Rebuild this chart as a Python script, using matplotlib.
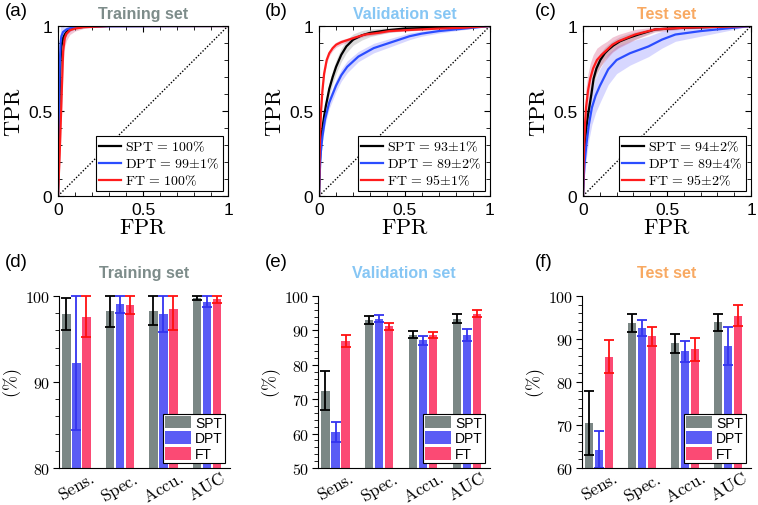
import matplotlib
matplotlib.use("Agg")
import matplotlib.pyplot as plt
import numpy as np
from matplotlib.ticker import MultipleLocator, FixedLocator, FuncFormatter
from matplotlib.patches import Patch

plt.rcParams['font.family'] = ['Liberation Sans', 'DejaVu Sans']
plt.rcParams['mathtext.fontset'] = 'cm'

# ---------------- ROC data ----------------
# Training
tr_spt_fpr = [0, 0.005, 0.01, 0.015, 0.02, 0.03, 0.04, 0.05, 0.07, 0.1, 0.15, 0.3, 1.0]
tr_spt_tpr = [0, 0.3, 0.6, 0.8, 0.88, 0.93, 0.95, 0.965, 0.982, 0.99, 0.995, 1.0, 1.0]
tr_spt_w   = [0, 0.05, 0.06, 0.05, 0.04, 0.03, 0.025, 0.02, 0.012, 0.008, 0.004, 0, 0]
tr_dpt_fpr = [0, 0.005, 0.01, 0.015, 0.02, 0.03, 0.05, 0.08, 0.12, 0.2, 1.0]
tr_dpt_tpr = [0, 0.45, 0.75, 0.9, 0.94, 0.965, 0.98, 0.99, 0.995, 0.998, 1.0]
tr_dpt_w   = [0, 0.1, 0.15, 0.1, 0.07, 0.05, 0.03, 0.015, 0.008, 0.003, 0]
tr_ft_fpr  = [0, 0.01, 0.02, 0.03, 0.04, 0.05, 0.07, 0.1, 0.15, 0.3, 1.0]
tr_ft_tpr  = [0, 0.25, 0.55, 0.85, 0.93, 0.955, 0.975, 0.985, 0.993, 1.0, 1.0]
tr_ft_w    = [0, 0.08, 0.1, 0.08, 0.05, 0.04, 0.025, 0.015, 0.008, 0, 0]

# Validation
va_spt_fpr = [0, 0.005, 0.01, 0.02, 0.03, 0.04, 0.06, 0.08, 0.1, 0.13, 0.16, 0.2, 0.25, 0.3, 0.4, 0.5, 0.7, 0.85, 1.0]
va_spt_tpr = [0, 0.2, 0.3, 0.4, 0.47, 0.53, 0.63, 0.7, 0.76, 0.83, 0.88, 0.92, 0.945, 0.96, 0.975, 0.985, 0.99, 0.995, 1.0]
va_spt_w   = [0, 0.03, 0.04, 0.04, 0.04, 0.04, 0.04, 0.04, 0.04, 0.04, 0.038, 0.033, 0.028, 0.022, 0.015, 0.01, 0.005, 0.003, 0]
va_dpt_fpr = [0, 0.005, 0.01, 0.02, 0.035, 0.06, 0.1, 0.13, 0.165, 0.23, 0.32, 0.41, 0.53, 0.6, 0.7, 0.8, 0.9, 1.0]
va_dpt_tpr = [0, 0.15, 0.25, 0.35, 0.45, 0.55, 0.65, 0.71, 0.76, 0.82, 0.87, 0.9, 0.94, 0.955, 0.97, 0.98, 0.99, 1.0]
va_dpt_w   = [0, 0.03, 0.03, 0.03, 0.035, 0.035, 0.035, 0.035, 0.035, 0.03, 0.028, 0.025, 0.02, 0.015, 0.012, 0.008, 0.005, 0]
va_ft_fpr  = [0, 0.003, 0.007, 0.012, 0.02, 0.03, 0.045, 0.06, 0.08, 0.1, 0.13, 0.175, 0.22, 0.27, 0.35, 0.41, 0.5, 0.6, 0.7, 0.85, 1.0]
va_ft_tpr  = [0, 0.2, 0.38, 0.5, 0.62, 0.72, 0.8, 0.84, 0.87, 0.89, 0.905, 0.92, 0.935, 0.95, 0.96, 0.97, 0.975, 0.98, 0.985, 0.99, 1.0]
va_ft_w    = [0, 0.02, 0.02, 0.02, 0.02, 0.02, 0.018, 0.016, 0.015, 0.015, 0.014, 0.012, 0.01, 0.01, 0.008, 0.007, 0.006, 0.005, 0.004, 0.003, 0]

# Test
te_spt_fpr = [0, 0.005, 0.01, 0.02, 0.03, 0.037, 0.05, 0.063, 0.08, 0.103, 0.13, 0.15, 0.18, 0.22, 0.27, 0.33, 0.43, 0.6, 0.8, 1.0]
te_spt_tpr = [0, 0.2, 0.3, 0.4, 0.48, 0.52, 0.6, 0.69, 0.75, 0.8, 0.84, 0.86, 0.885, 0.91, 0.93, 0.95, 0.98, 0.99, 0.995, 1.0]
te_spt_w   = [0, 0.03, 0.035, 0.04, 0.04, 0.04, 0.04, 0.04, 0.04, 0.04, 0.035, 0.033, 0.03, 0.028, 0.025, 0.02, 0.01, 0.005, 0.003, 0]
te_dpt_fpr = [0, 0.005, 0.01, 0.02, 0.035, 0.053, 0.075, 0.1, 0.15, 0.2, 0.28, 0.39, 0.47, 0.55, 0.7, 0.8, 0.9, 1.0]
te_dpt_tpr = [0, 0.12, 0.2, 0.3, 0.42, 0.52, 0.59, 0.647, 0.745, 0.8, 0.84, 0.88, 0.92, 0.95, 0.97, 0.98, 0.99, 1.0]
te_dpt_w   = [0, 0.05, 0.07, 0.08, 0.09, 0.1, 0.1, 0.1, 0.09, 0.08, 0.07, 0.06, 0.05, 0.04, 0.03, 0.02, 0.01, 0]
te_ft_fpr  = [0, 0.004, 0.008, 0.013, 0.018, 0.03, 0.043, 0.06, 0.083, 0.11, 0.143, 0.175, 0.21, 0.26, 0.31, 0.43, 0.6, 0.8, 1.0]
te_ft_tpr  = [0, 0.2, 0.33, 0.44, 0.52, 0.62, 0.69, 0.75, 0.8, 0.83, 0.86, 0.89, 0.91, 0.93, 0.95, 0.98, 0.99, 0.995, 1.0]
te_ft_w    = [0, 0.1, 0.12, 0.12, 0.12, 0.1, 0.09, 0.08, 0.07, 0.06, 0.05, 0.045, 0.04, 0.035, 0.03, 0.015, 0.008, 0.004, 0]

legend_train = [r'$\mathrm{SPT}\,=\,100\%$', r'$\mathrm{DPT}\,=\,99{\pm}1\%$', r'$\mathrm{FT}\,=\,100\%$']
legend_val   = [r'$\mathrm{SPT}\,=\,93{\pm}1\%$', r'$\mathrm{DPT}\,=\,89{\pm}2\%$', r'$\mathrm{FT}\,=\,95{\pm}1\%$']
legend_test  = [r'$\mathrm{SPT}\,=\,94{\pm}2\%$', r'$\mathrm{DPT}\,=\,89{\pm}4\%$', r'$\mathrm{FT}\,=\,95{\pm}2\%$']

# ---------------- Bar data ----------------
metrics = ['Sens.', 'Spec.', 'Accu.', 'AUC']
models = ['SPT', 'DPT', 'FT']
train_mean = {'SPT': [97.9, 98.2, 98.3, 99.75], 'DPT': [92.2, 99.05, 97.9, 99.35], 'FT': [97.6, 98.95, 98.5, 99.6]}
train_err  = {'SPT': [1.9, 1.8, 1.7, 0.25], 'DPT': [7.8, 1.0, 2.1, 0.6], 'FT': [2.4, 1.0, 2.4, 0.4]}
val_mean = {'SPT': [72.5, 93.0, 88.8, 93.4], 'DPT': [60.5, 93.4, 87.1, 88.7], 'FT': [86.9, 91.2, 88.6, 94.9]}
val_err  = {'SPT': [5.6, 1.2, 0.9, 1.3], 'DPT': [2.9, 1.0, 1.2, 1.8], 'FT': [1.7, 1.0, 0.9, 1.0]}
test_mean = {'SPT': [70.5, 93.7, 89.0, 93.9], 'DPT': [64.2, 92.6, 87.1, 88.4], 'FT': [85.9, 90.6, 87.6, 95.4]}
test_err  = {'SPT': [7.5, 2.0, 2.2, 2.0], 'DPT': [4.3, 1.8, 2.4, 4.4], 'FT': [3.8, 2.2, 2.7, 2.4]}

titles = ['Training set', 'Validation set', 'Test set']
title_colors = ['#7d8c8a', '#86c6f4', '#f8a962']

line_colors = {'SPT': 'black', 'DPT': '#2b4dff', 'FT': '#ff1c1c'}
band_colors = {'SPT': '#8a8a8a', 'DPT': '#7d7dff', 'FT': '#d2447a'}
bar_colors = {'SPT': '#7b8785', 'DPT': '#5a5cf5', 'FT': '#fb4a74'}
err_colors = {'SPT': 'black', 'DPT': '#3434f0', 'FT': '#ff1010'}

W, H = 758, 506
fig = plt.figure(figsize=(W / 100, H / 100), dpi=100)

def rect(l, r, t, b):
    return [l / W, 1 - b / H, (r - l) / W, (b - t) / H]

roc_rects = [rect(58, 228, 27, 197), rect(319, 490, 27, 197), rect(583, 751, 27, 197)]
bar_rects = [rect(59, 230, 297, 469), rect(318, 490, 297, 469), rect(582, 751, 297, 469)]

roc_sets = [
    [(tr_spt_fpr, tr_spt_tpr, tr_spt_w), (tr_dpt_fpr, tr_dpt_tpr, tr_dpt_w), (tr_ft_fpr, tr_ft_tpr, tr_ft_w)],
    [(va_spt_fpr, va_spt_tpr, va_spt_w), (va_dpt_fpr, va_dpt_tpr, va_dpt_w), (va_ft_fpr, va_ft_tpr, va_ft_w)],
    [(te_spt_fpr, te_spt_tpr, te_spt_w), (te_dpt_fpr, te_dpt_tpr, te_dpt_w), (te_ft_fpr, te_ft_tpr, te_ft_w)],
]
legends = [legend_train, legend_val, legend_test]

for i in range(3):
    ax = fig.add_axes(roc_rects[i])
    handles = []
    for m, (f, t, w) in zip(models, roc_sets[i]):
        f = np.array(f); t = np.array(t); w = np.array(w)
        ax.fill_between(f, np.clip(t - w, 0, 1), np.clip(t + w, 0, 1),
                        color=band_colors[m], alpha=0.3, lw=0)
    for m, (f, t, w), lab in zip(models, roc_sets[i], legends[i]):
        h, = ax.plot(f, t, color=line_colors[m], lw=1.6, label=lab)
        handles.append(h)
    ax.plot([0, 1], [0, 1], color='black', ls=(0, (1, 1.3)), lw=1.0)
    ax.set_xlim(0, 1)
    ax.set_ylim(0, 1)
    ax.xaxis.set_major_locator(FixedLocator([0, 0.5, 1]))
    ax.yaxis.set_major_locator(FixedLocator([0, 0.5, 1]))
    ax.xaxis.set_minor_locator(MultipleLocator(0.1))
    ax.yaxis.set_minor_locator(MultipleLocator(0.1))
    fmt = FuncFormatter(lambda v, p: '%g' % v)
    ax.xaxis.set_major_formatter(fmt)
    ax.yaxis.set_major_formatter(fmt)
    ax.tick_params(which='both', direction='in', top=True, right=True, labelsize=12.5, pad=4)
    ax.tick_params(which='major', length=4)
    ax.tick_params(which='minor', length=3)
    ax.set_xlabel(r'$\mathrm{FPR}$', fontsize=16, labelpad=0)
    ax.set_ylabel(r'$\mathrm{TPR}$', fontsize=16, labelpad=2)
    ax.set_title(titles[i], color=title_colors[i], fontsize=11.5, fontweight='bold', pad=6)
    leg = ax.legend(handles=handles, loc='lower right', fontsize=10, frameon=True,
                    fancybox=False, edgecolor='black', framealpha=1,
                    handlelength=1.6, handletextpad=0.3, borderpad=0.25,
                    labelspacing=0.2, borderaxespad=0.35)
    leg.get_frame().set_linewidth(0.8)

bar_sets = [(train_mean, train_err, 80, 100), (val_mean, val_err, 50, 100), (test_mean, test_err, 60, 100)]
x = np.arange(1, len(metrics) + 1)
offsets = {'SPT': -0.23, 'DPT': 0.0, 'FT': 0.23}
for i in range(3):
    ax = fig.add_axes(bar_rects[i])
    means, errs, lo, hi = bar_sets[i]
    handles = []
    for m in models:
        v = np.array(means[m]); e = np.array(errs[m])
        up = np.minimum(v + e, hi) - v
        dn = e
        ax.bar(x + offsets[m], v - lo, bottom=lo, width=0.19, color=bar_colors[m], lw=0)
        ax.errorbar(x + offsets[m], v, yerr=[dn, up], fmt='none', ecolor=err_colors[m],
                    elinewidth=1.3, capsize=3.4, capthick=1.3, clip_on=False)
        handles.append(Patch(facecolor=bar_colors[m], label=m))
    ax.set_xlim(0.6, 4.53)
    ax.set_ylim(lo, hi)
    ax.spines['top'].set_visible(False)
    ax.spines['right'].set_visible(False)
    ax.yaxis.set_major_locator(MultipleLocator(10))
    ax.yaxis.set_minor_locator(MultipleLocator(2))
    ax.yaxis.set_major_formatter(FuncFormatter(lambda v, p: r'$%d$' % v))
    ax.tick_params(axis='y', which='both', direction='out', labelsize=11.5, pad=2)
    ax.tick_params(axis='y', which='major', length=4)
    ax.tick_params(axis='y', which='minor', length=3)
    ax.set_xticks(x)
    ax.set_xticklabels([r'$\mathrm{%s}$' % s for s in metrics], rotation=30, fontsize=12.5)
    ax.tick_params(axis='x', length=0, pad=1)
    ax.set_ylabel(r'$(\%)$', fontsize=13, labelpad=1)
    ax.set_title(titles[i], color=title_colors[i], fontsize=11.5, fontweight='bold', pad=14)
    leg = ax.legend(handles=handles, loc='lower right', fontsize=10, frameon=True,
                    fancybox=False, edgecolor='black', framealpha=1,
                    handlelength=1.9, handleheight=1.0, handletextpad=0.3,
                    borderpad=0.15, labelspacing=0.12, borderaxespad=0.35)
    leg.get_frame().set_linewidth(0.8)

labels_pos = [('(a)', 5, 3), ('(b)', 265, 3), ('(c)', 535, 3),
              ('(d)', 5, 254), ('(e)', 265, 254), ('(f)', 535, 254)]
for s, px, py in labels_pos:
    fig.text(px / W, 1 - py / H, s, fontsize=13.5, va='top', ha='left')

fig.savefig('out.png', dpi=100)
